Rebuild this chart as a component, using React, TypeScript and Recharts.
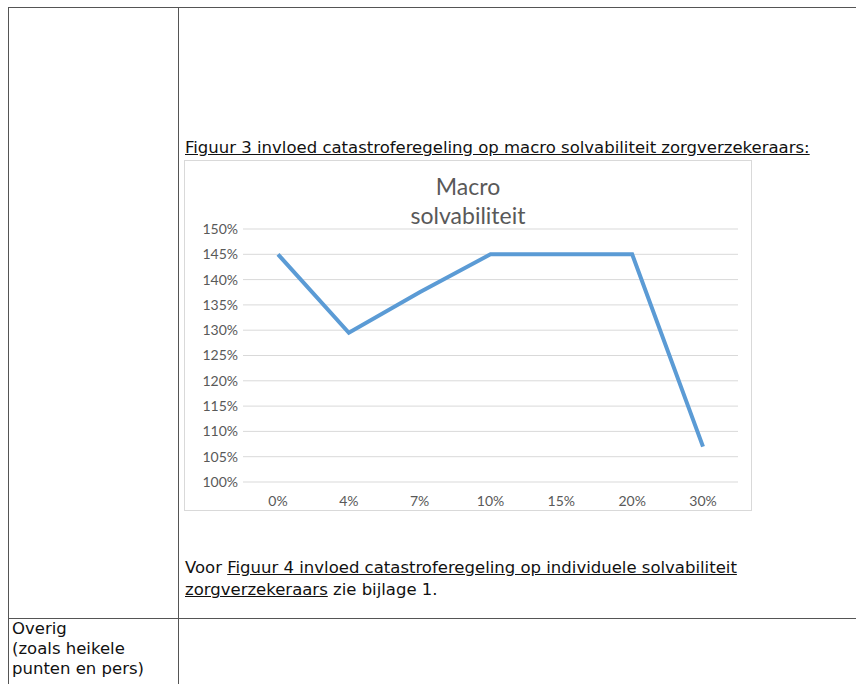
import { LineChart, Line, XAxis, YAxis, CartesianGrid } from 'recharts';

const categories = ['0%', '4%', '7%', '10%', '15%', '20%', '30%'];
const solvabiliteit = [145, 129.5, 137.5, 145, 145, 145, 107];
const yTicks = [100, 105, 110, 115, 120, 125, 130, 135, 140, 145, 150];

const data = categories.map((name, i) => ({ name, value: solvabiliteit[i] }));

const docFont = '"DejaVu Sans", Verdana, sans-serif';
const chartFont = 'Lato, "Open Sans", sans-serif';
const lineColor = '#555';

export default function App() {
  return (
    <div style={{ position: 'absolute', left: 0, top: 0, width: 856, height: 684, background: '#fff', overflow: 'hidden', fontFamily: docFont, color: '#111' }}>
      {/* table lines */}
      <div style={{ position: 'absolute', left: 8, top: 7, width: 860, height: 1, background: lineColor }} />
      <div style={{ position: 'absolute', left: 8, top: 7, width: 1, height: 690, background: lineColor }} />
      <div style={{ position: 'absolute', left: 178, top: 7, width: 1, height: 690, background: lineColor }} />
      <div style={{ position: 'absolute', left: 8, top: 618, width: 860, height: 1, background: lineColor }} />

      {/* caption */}
      <div style={{ position: 'absolute', left: 185, top: 138, fontSize: 16.5, lineHeight: '20px', whiteSpace: 'nowrap', textDecoration: 'underline' }}>
        Figuur 3 invloed catastroferegeling op macro solvabiliteit zorgverzekeraars:
      </div>

      {/* chart box */}
      <div style={{ position: 'absolute', left: 184, top: 160, width: 568, height: 351, border: '1px solid #d9d9d9', boxSizing: 'border-box' }}>
        <div style={{ position: 'absolute', left: 0, width: '100%', top: 11, textAlign: 'center', fontFamily: chartFont, fontSize: 23, lineHeight: '29px', color: '#595959' }}>
          Macro<br />solvabiliteit
        </div>
        <LineChart width={566} height={349} data={data} margin={{ top: 68, right: 13, bottom: 3, left: 0 }} style={{ position: 'absolute', left: 0, top: 0 }}>
          <CartesianGrid vertical={false} stroke="#d9d9d9" strokeWidth={1} />
          <XAxis dataKey="name" axisLine={false} tickLine={false} tickMargin={8} height={25}
            padding={{ left: 35, right: 35 }}
            tick={{ fontSize: 14, fill: '#595959', fontFamily: chartFont }} />
          <YAxis domain={[100, 150]} ticks={yTicks} interval={0} axisLine={false} tickLine={false} width={58}
            tickSize={0} tickMargin={5} tickFormatter={(v) => `${v}%`}
            tick={{ fontSize: 14, fill: '#595959', fontFamily: chartFont }} />
          <Line type="linear" dataKey="value" stroke="#5b9bd5" strokeWidth={4} dot={false} isAnimationActive={false} />
        </LineChart>
      </div>

      {/* text below chart */}
      <div style={{ position: 'absolute', left: 185, top: 557, fontSize: 16.5, lineHeight: '22px', whiteSpace: 'nowrap' }}>
        Voor <span style={{ textDecoration: 'underline' }}>Figuur 4 invloed catastroferegeling op individuele solvabiliteit </span>
        <br />
        <span style={{ textDecoration: 'underline' }}>zorgverzekeraars</span> zie bijlage 1.
      </div>

      {/* left cell */}
      <div style={{ position: 'absolute', left: 12, top: 619, fontSize: 16.5, lineHeight: '20px' }}>
        Overig<br />(zoals heikele<br />punten en pers)
      </div>
    </div>
  );
}
